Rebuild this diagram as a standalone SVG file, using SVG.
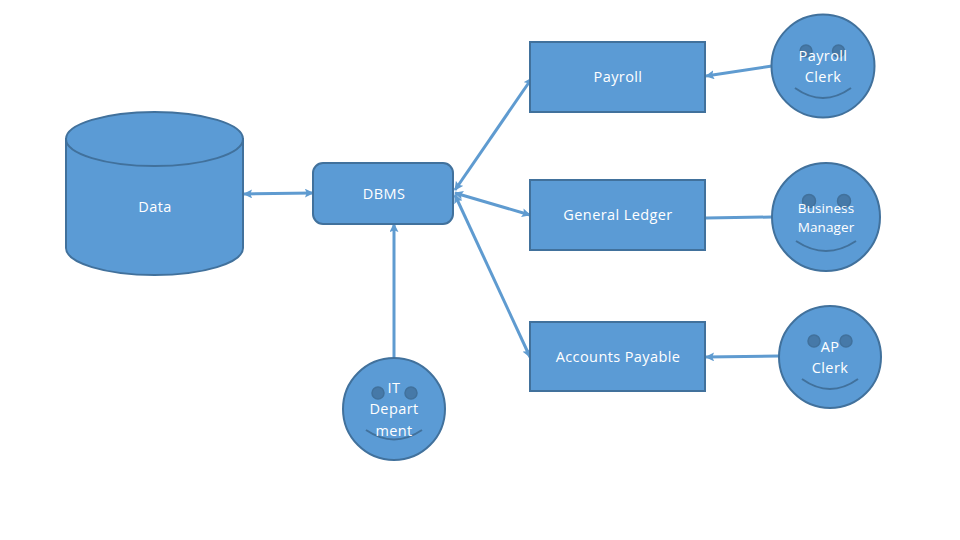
<svg xmlns="http://www.w3.org/2000/svg" width="960" height="540" viewBox="0 0 960 540">
<style>
.s{fill:#5b9bd5;stroke:#41719c;stroke-width:2}
.e{fill:#41719c;fill-opacity:.8;stroke:#41719c;stroke-width:1.5}
.m{fill:none;stroke:#41719c;stroke-width:2}
.c{fill:none;stroke:#5f9bd0;stroke-width:3}
text{font-family:"Open Sans","Noto Sans",sans-serif;font-size:14.5px;fill:#fff;text-anchor:middle;letter-spacing:.4px}
.b{font-size:13.5px;letter-spacing:.1px}
</style>
<defs>
<marker id="a" viewBox="0 0 10 10" refX="9" refY="5" markerWidth="3" markerHeight="3" orient="auto-start-reverse"><path d="M0 0L10 5L0 10L2 5Z" fill="#5f9bd0"/></marker>
</defs>
<rect width="960" height="540" fill="#fff"/>
<g id="connectors">
<path class="c" d="M244 194L313 193" marker-start="url(#a)" marker-end="url(#a)"/>
<path class="c" d="M394 357L394 224" marker-end="url(#a)"/>
<path class="c" d="M455 190L532 78" marker-start="url(#a)" marker-end="url(#a)"/>
<path class="c" d="M455 193L530 215" marker-start="url(#a)" marker-end="url(#a)"/>
<path class="c" d="M455 195L530 357" marker-start="url(#a)" marker-end="url(#a)"/>
<path class="c" d="M772 66L706 76" marker-end="url(#a)"/>
<path class="c" d="M772 217L706 218"/>
<path class="c" d="M779 356L706 357" marker-end="url(#a)"/>
</g>
<g id="data">
<path class="s" d="M66 139V248A88.500 27 0 0 0 243 248V139Z"/>
<ellipse class="s" cx="154.500" cy="139" rx="88.500" ry="27"/>
<text x="155" y="212">Data</text>
</g>
<g id="dbms">
<rect class="s" x="313" y="163" width="140" height="61" rx="10"/>
<text x="384" y="199">DBMS</text>
</g>
<g id="payroll">
<rect class="s" x="530" y="42" width="175" height="70"/>
<text x="618" y="82">Payroll</text>
</g>
<g id="ledger">
<rect class="s" x="530" y="180" width="175" height="70"/>
<text x="618" y="220">General Ledger</text>
</g>
<g id="payable">
<rect class="s" x="530" y="322" width="175" height="69"/>
<text x="618" y="362">Accounts Payable</text>
</g>
<g id="payroll-clerk">
<circle class="s" cx="823" cy="66" r="51.500"/>
<circle class="e" cx="806" cy="51" r="6"/><circle class="e" cx="838.500" cy="51" r="6"/>
<path class="m" d="M795 88Q823 108 851 88"/>
<text x="823" y="61">Payroll</text><text x="823" y="82">Clerk</text>
</g>
<g id="business-manager">
<circle class="s" cx="826" cy="217" r="54"/>
<circle class="e" cx="809" cy="201" r="6.500"/><circle class="e" cx="844" cy="201" r="6.500"/>
<path class="m" d="M796 241Q826 261 856 241"/>
<text class="b" x="826" y="213">Business</text><text class="b" x="826" y="232">Manager</text>
</g>
<g id="ap-clerk">
<circle class="s" cx="830" cy="357" r="51"/>
<circle class="e" cx="814" cy="341" r="6"/><circle class="e" cx="846" cy="341" r="6"/>
<path class="m" d="M802 379Q830 399 858 379"/>
<text x="830" y="352">AP</text><text x="830" y="373">Clerk</text>
</g>
<g id="it-department">
<circle class="s" cx="394" cy="409" r="51"/>
<circle class="e" cx="378" cy="393" r="6"/><circle class="e" cx="411" cy="393" r="6"/>
<path class="m" d="M366 430Q394 449 422 430"/>
<text x="394" y="393">IT</text><text x="394" y="414">Depart</text><text x="394" y="436">ment</text>
</g>
</svg>
